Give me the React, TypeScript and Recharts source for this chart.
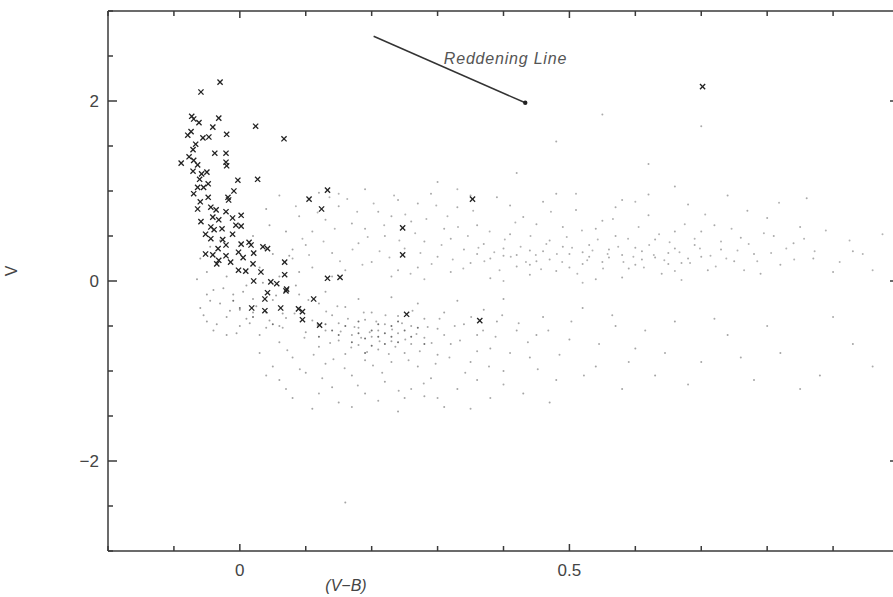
import React from "react"
import {
  ScatterChart,
  Scatter,
  XAxis,
  YAxis,
  ReferenceLine,
  ReferenceDot,
} from "recharts"

type Pt = [number, number]

// tick positions
const xTicks = [-0.2, -0.1, 0, 0.1, 0.2, 0.3, 0.4, 0.5, 0.6, 0.7, 0.8, 0.9, 1.0]
const yTicks = [-3, -2.5, -2, -1.5, -1, -0.5, 0, 0.5, 1, 1.5, 2, 2.5, 3]
const xLabels: { [k: string]: string } = { "0": "0", "0.5": "0.5" }
const yLabels: { [k: string]: string } = { "-2": "\u22122", "0": "0", "2": "2" }

// reddening vector (start, end)
const reddening: Pt[] = [
  [0.203, 2.72],
  [0.433, 1.98],
]

// blue supergiant candidates (crosses)
const crosses: Pt[] = [
  [-0.03, 2.21], [-0.059, 2.1], [-0.073, 1.83], [-0.07, 1.8], [-0.062, 1.76],
  [-0.032, 1.81], [-0.041, 1.71], [-0.02, 1.63], [0.024, 1.72], [0.067, 1.58],
  [-0.074, 1.66], [-0.079, 1.62], [-0.056, 1.59], [-0.047, 1.6], [-0.067, 1.52],
  [-0.071, 1.46], [-0.038, 1.42], [-0.021, 1.42], [-0.077, 1.38], [-0.089, 1.31],
  [-0.021, 1.32], [-0.02, 1.28], [-0.07, 1.34], [-0.064, 1.29], [-0.071, 1.22],
  [-0.058, 1.19], [-0.05, 1.21], [-0.003, 1.12], [0.027, 1.13], [-0.061, 1.13],
  [-0.055, 1.04], [-0.064, 1.04], [-0.07, 0.97], [-0.048, 0.93], [-0.018, 0.93],
  [0.105, 0.91], [-0.017, 0.9], [0.124, 0.8], [-0.064, 0.8], [-0.044, 0.82],
  [-0.036, 0.79], [-0.021, 0.77], [0.002, 0.73], [-0.011, 0.7], [-0.041, 0.71],
  [-0.059, 0.66], [-0.032, 0.68], [-0.006, 0.62], [0.002, 0.61], [-0.044, 0.6],
  [-0.039, 0.57], [-0.027, 0.58], [-0.011, 0.52], [-0.052, 0.52], [-0.044, 0.47],
  [-0.026, 0.46], [0.014, 0.43], [0.017, 0.4], [0.002, 0.41], [-0.021, 0.4],
  [0.035, 0.38], [0.042, 0.36], [-0.033, 0.36], [-0.002, 0.32], [0.021, 0.31],
  [-0.052, 0.3], [-0.041, 0.29], [-0.021, 0.28], [0.005, 0.26], [-0.032, 0.23],
  [-0.014, 0.21], [0.02, 0.19], [0.068, 0.21], [-0.035, 0.19], [-0.002, 0.12],
  [0.009, 0.11], [0.032, 0.1], [0.068, 0.07], [0.133, 0.03], [0.152, 0.04],
  [0.021, 0.0], [0.047, -0.01], [0.056, -0.03], [0.071, -0.09], [0.07, -0.11],
  [0.042, -0.13], [0.038, -0.2], [0.112, -0.2], [0.018, -0.3], [0.038, -0.33],
  [0.062, -0.3], [0.089, -0.31], [0.095, -0.34], [0.095, -0.43], [0.121, -0.49],
  [0.253, -0.37], [0.364, -0.44], [0.702, 2.16], [0.353, 0.91], [0.247, 0.59],
  [0.247, 0.29], [0.133, 1.01], [-0.009, 1.0], [-0.048, 1.08], [-0.06, 0.88],
]

// faint field stars, upper (blue-loop / supergiant) band
const upperBand: Pt[] = [
  [0.06, 0.95], [0.09, 0.72], [0.11, 0.55], [0.12, 0.98], [0.14, 0.31], [0.15, 0.83],
  [0.16, 0.12], [0.17, 0.64], [0.18, 0.42], [0.19, 1.02], [0.2, 0.21], [0.21, 0.77],
  [0.22, 0.5], [0.23, 0.05], [0.24, 0.9], [0.25, 0.36], [0.26, 0.66], [0.27, 0.15],
  [0.28, 0.44], [0.29, 0.97], [0.3, 0.27], [0.31, 0.58], [0.32, 0.1], [0.33, 0.82],
  [0.34, 0.35], [0.35, 0.2], [0.36, 0.62], [0.37, 0.41], [0.38, 0.03], [0.39, 0.93],
  [0.4, 0.28], [0.41, 0.52], [0.42, 0.16], [0.43, 0.71], [0.44, 0.34], [0.45, 0.22],
  [0.46, 0.88], [0.47, 0.45], [0.48, 0.11], [0.49, 0.6], [0.5, 0.3], [0.51, 0.79],
  [0.52, 0.19], [0.53, 0.4], [0.54, 0.02], [0.55, 0.67], [0.56, 0.26], [0.57, 0.5],
  [0.58, 0.9], [0.59, 0.14], [0.6, 0.37], [0.61, 0.24], [0.62, 0.73], [0.63, 0.46],
  [0.64, 0.08], [0.65, 0.31], [0.66, 0.55], [0.67, 0.2], [0.68, 0.85], [0.69, 0.4],
  [0.7, 0.27], [0.71, 0.12], [0.72, 0.62], [0.73, 0.35], [0.74, 0.95], [0.75, 0.22],
  [0.76, 0.48], [0.78, 0.3], [0.8, 0.7], [0.82, 0.18], [0.84, 0.42], [0.87, 0.25],
  [0.9, 0.1], [0.36, 0.3], [0.38, 0.25], [0.4, 0.36], [0.42, 0.29], [0.44, 0.18],
  [0.46, 0.33], [0.47, 0.24], [0.49, 0.38], [0.5, 0.15], [0.52, 0.32], [0.53, 0.27],
  [0.55, 0.21], [0.56, 0.35], [0.58, 0.29], [0.6, 0.18], [0.61, 0.33], [0.63, 0.26],
  [0.65, 0.19], [0.66, 0.36], [0.68, 0.25], [0.1, 0.4], [0.13, 0.68], [0.08, 0.25],
  [0.11, 0.15], [0.19, 0.58], [0.23, 0.72], [0.27, 0.86], [0.32, 0.47], [0.35, 0.95],
  [0.41, 0.84], [0.45, 0.63], [0.48, 0.97], [0.54, 0.58], [0.57, 0.82], [0.62, 0.96],
  [0.7, 0.55], [0.77, 0.78], [0.81, 0.5], [0.85, 0.6], [0.79, 0.08], [0.93, 0.33],
  [0.48, 1.55], [0.62, 1.3], [0.55, 1.85], [0.7, 1.72], [0.42, 1.2], [0.3, 1.1],
  [0.66, 1.05], [0.86, 0.92], [0.24, 0.12], [0.14, 0.05], [0.44, 0.07], [0.58, 0.04],
]

const upperBandExtra: Pt[] = [
  [0.085, 0.83], [0.095, 0.47], [0.105, 0.29], [0.118, 0.76], [0.127, 0.44], [0.136, 0.93],
  [0.144, 0.58], [0.152, 0.22], [0.163, 0.91], [0.171, 0.35], [0.178, 0.77], [0.186, 0.18],
  [0.194, 0.49], [0.203, 0.86], [0.212, 0.33], [0.219, 0.62], [0.227, 0.26], [0.234, 0.95],
  [0.242, 0.45], [0.251, 0.74], [0.259, 0.08], [0.266, 0.53], [0.274, 0.31], [0.283, 0.69],
  [0.291, 0.19], [0.298, 0.84], [0.306, 0.4], [0.315, 0.72], [0.323, 0.24], [0.331, 0.6],
  [0.339, 0.14], [0.346, 0.5], [0.354, 0.78], [0.362, 0.37], [0.371, 0.22], [0.379, 0.55],
  [0.386, 0.32], [0.394, 0.12], [0.402, 0.46], [0.411, 0.27], [0.418, 0.65], [0.426, 0.38],
  [0.434, 0.21], [0.441, 0.5], [0.449, 0.29], [0.457, 0.13], [0.465, 0.41], [0.472, 0.77],
  [0.481, 0.3], [0.489, 0.21], [0.496, 0.49], [0.504, 0.37], [0.512, 0.08], [0.519, 0.56],
  [0.527, 0.23], [0.535, 0.34], [0.543, 0.46], [0.551, 0.14], [0.558, 0.3], [0.566, 0.69],
  [0.574, 0.38], [0.582, 0.21], [0.589, 0.47], [0.597, 0.27], [0.605, 0.6], [0.613, 0.15],
  [0.621, 0.4], [0.628, 0.29], [0.636, 0.52], [0.644, 0.23], [0.652, 0.43], [0.66, 0.11],
  [0.667, 0.32], [0.675, 0.63], [0.683, 0.2], [0.69, 0.47], [0.698, 0.36], [0.706, 0.74],
  [0.714, 0.28], [0.722, 0.16], [0.73, 0.44], [0.738, 0.25], [0.746, 0.58], [0.755, 0.34],
  [0.765, 0.12], [0.772, 0.41], [0.785, 0.22], [0.795, 0.53], [0.806, 0.31], [0.818, 0.87],
  [0.829, 0.36], [0.841, 0.24], [0.856, 0.47], [0.872, 0.33], [0.889, 0.56], [0.91, 0.21],
  [0.925, 0.45], [0.945, 0.3], [0.96, 0.12], [0.975, 0.52], [0.15, 0.97], [0.33, 1.02],
  [0.51, 0.97], [0.6, 0.88], [0.28, 0.02], [0.4, 0.0], [0.52, -0.02], [0.67, 0.01],
]

// faint field stars, red clump / lower group
const lowerClump: Pt[] = [
  [0.02, -0.35], [0.04, -0.52], [0.05, -0.21], [0.06, -0.68], [0.07, -0.41], [0.08, -0.85],
  [0.09, -0.3], [0.1, -0.57], [0.1, -1.02], [0.11, -0.44], [0.12, -0.73], [0.12, -0.25],
  [0.13, -0.92], [0.13, -0.55], [0.14, -0.38], [0.14, -1.18], [0.15, -0.66], [0.15, -0.47],
  [0.16, -0.81], [0.16, -0.29], [0.17, -0.6], [0.17, -1.05], [0.18, -0.52], [0.18, -0.71],
  [0.19, -0.43], [0.19, -0.88], [0.2, -0.62], [0.2, -0.35], [0.21, -0.76], [0.21, -0.55],
  [0.22, -1.12], [0.22, -0.48], [0.23, -0.67], [0.23, -0.9], [0.24, -0.58], [0.24, -0.39],
  [0.25, -0.8], [0.25, -1.3], [0.26, -0.5], [0.26, -0.7], [0.27, -0.95], [0.28, -0.42],
  [0.28, -0.63], [0.29, -1.08], [0.3, -0.53], [0.3, -0.82], [0.31, -0.35], [0.32, -0.7],
  [0.33, -1.2], [0.34, -0.48], [0.35, -0.9], [0.36, -0.6], [0.38, -0.75], [0.4, -1.0],
  [0.42, -0.55], [0.44, -0.85], [0.46, -0.4], [0.48, -1.1], [0.5, -0.65], [0.52, -0.3],
  [0.54, -0.95], [0.57, -0.5], [0.6, -0.75], [0.63, -1.05], [0.66, -0.45], [0.7, -0.9],
  [0.74, -0.6], [0.78, -1.1], [0.82, -0.8], [0.88, -1.05], [0.93, -0.7], [0.06, -1.1],
  [0.08, -1.3], [0.11, -1.42], [0.15, -1.35], [0.19, -1.25], [0.24, -1.45], [0.28, -1.28],
  [0.31, -1.4], [0.09, -0.15], [0.13, -0.12], [0.18, -0.2], [0.23, -0.18], [0.27, -0.25],
  [0.33, -0.22], [0.37, -0.32], [0.4, -0.2], [0.45, -0.6], [0.39, -0.45], [0.43, -1.25],
  [0.03, -0.8], [0.05, -0.95], [0.36, -1.1], [0.16, -2.46], [0.47, -1.35], [0.58, -1.2],
]

const lowerClumpExtra: Pt[] = [
  [0.065, -0.52], [0.072, -0.77], [0.083, -0.36], [0.091, -0.98], [0.098, -0.63], [0.104, -0.21],
  [0.112, -0.82], [0.118, -0.49], [0.125, -1.08], [0.131, -0.34], [0.137, -0.69], [0.142, -0.87],
  [0.148, -0.28], [0.153, -0.56], [0.159, -0.97], [0.164, -0.42], [0.169, -0.74], [0.174, -0.51],
  [0.179, -1.16], [0.184, -0.63], [0.188, -0.35], [0.193, -0.79], [0.197, -0.57], [0.202, -0.94],
  [0.207, -0.45], [0.212, -0.67], [0.216, -1.02], [0.221, -0.38], [0.226, -0.81], [0.231, -0.54],
  [0.236, -0.73], [0.241, -1.22], [0.246, -0.47], [0.251, -0.65], [0.256, -0.88], [0.262, -0.33],
  [0.268, -0.59], [0.273, -0.78], [0.279, -1.14], [0.285, -0.51], [0.291, -0.69], [0.297, -0.92],
  [0.303, -0.42], [0.31, -0.6], [0.318, -0.85], [0.326, -0.5], [0.334, -0.66], [0.342, -1.02],
  [0.351, -0.4], [0.36, -0.78], [0.369, -0.55], [0.378, -0.95], [0.388, -0.62], [0.398, -0.38],
  [0.41, -0.8], [0.423, -0.47], [0.437, -0.68], [0.452, -0.98], [0.468, -0.55], [0.485, -0.82],
  [0.503, -0.45], [0.522, -1.05], [0.545, -0.7], [0.565, -0.38], [0.59, -0.9], [0.615, -0.55],
  [0.645, -0.8], [0.68, -1.15], [0.72, -0.42], [0.76, -0.85], [0.8, -0.5], [0.85, -1.2],
  [0.9, -0.4], [0.96, -0.95], [0.12, -1.25], [0.17, -1.4], [0.21, -1.33], [0.26, -1.2],
  [0.3, -1.3], [0.35, -1.42], [0.4, -1.15], [0.07, -1.2], [0.04, -1.05], [0.38, -1.3],
]

const leftStrip: Pt[] = [
  [-0.06, -0.3], [-0.05, -0.45], [-0.04, -0.1], [-0.04, -0.55], [-0.03, -0.25], [-0.02, -0.4],
  [-0.02, 0.05], [-0.01, -0.15], [0.0, -0.5], [0.0, -0.32], [0.01, -0.05], [0.01, -0.42],
  [0.02, -0.2], [0.03, -0.6], [0.03, 0.15], [0.04, -0.35], [0.05, 0.3], [0.06, 0.05],
  [-0.05, 0.1], [-0.06, 0.25], [-0.03, 0.45], [0.07, 0.55], [0.08, 0.35], [0.09, 0.1],
  [-0.01, 0.7], [0.04, 0.8], [-0.02, -0.6], [-0.05, -0.15], [0.06, -0.5], [0.02, 0.5],
  [-0.055, -0.38], [-0.045, -0.22], [-0.035, -0.48], [-0.025, -0.08], [-0.015, -0.33], [-0.005, -0.58],
  [0.005, -0.12], [0.015, -0.47], [0.025, -0.28], [0.035, -0.02], [0.045, -0.44], [0.055, -0.16],
  [0.065, -0.36], [0.075, 0.28], [0.085, -0.05], [-0.065, 0.02], [-0.045, 0.38], [0.045, 0.62],
]

// darker core of the red clump
const coreClump: Pt[] = [
  [0.14, -0.55], [0.15, -0.6], [0.16, -0.5], [0.17, -0.68], [0.18, -0.58], [0.18, -0.45],
  [0.19, -0.64], [0.2, -0.55], [0.2, -0.72], [0.21, -0.48], [0.21, -0.62], [0.22, -0.58],
  [0.22, -0.7], [0.23, -0.5], [0.23, -0.62], [0.24, -0.68], [0.25, -0.55], [0.26, -0.62],
  [0.27, -0.52], [0.12, -0.62], [0.13, -0.48], [0.19, -0.8], [0.24, -0.45], [0.28, -0.7],
  [0.0, -0.3], [0.02, -0.4], [-0.01, -0.22], [0.05, -0.48],
]

const toXY = (pts: Pt[]) => pts.map(([x, y]) => ({ x, y }))

const INK = "#3a3a3a"
const FONT = "'Liberation Sans', Arial, sans-serif"

const Cross = (props: any) => {
  const { cx, cy } = props
  if (cx == null || cy == null) return null
  const s = 2.6
  return (
    <g stroke="#222" strokeWidth={1.3}>
      <line x1={cx - s} y1={cy - s} x2={cx + s} y2={cy + s} />
      <line x1={cx - s} y1={cy + s} x2={cx + s} y2={cy - s} />
    </g>
  )
}

const makeDot = (fill: string, r: number) => (props: any) => {
  const { cx, cy } = props
  if (cx == null || cy == null) return null
  return <circle cx={cx} cy={cy} r={r} fill={fill} />
}

const isMajorX = (v: number) => Math.abs(v * 2 - Math.round(v * 2)) < 1e-6

const BottomTick = (props: any) => {
  const { x, y, payload } = props
  const key = String(payload.value)
  const len = isMajorX(payload.value) ? 7 : 5
  return (
    <g>
      <line x1={x} y1={y} x2={x} y2={y - len} stroke={INK} strokeWidth={1.5} />
      {xLabels[key] && (
        <text x={x} y={y + 25} textAnchor="middle" fontSize={17} fill="#444" fontFamily={FONT}>
          {xLabels[key]}
        </text>
      )}
    </g>
  )
}

const TopTick = (props: any) => {
  const { x, y, payload } = props
  const len = isMajorX(payload.value) ? 7 : 5
  return <line x1={x} y1={y} x2={x} y2={y + len} stroke={INK} strokeWidth={1.5} />
}

const LeftTick = (props: any) => {
  const { x, y, payload } = props
  const key = String(payload.value)
  const len = yLabels[key] ? 9 : 5
  return (
    <g>
      <line x1={x} y1={y} x2={x + len} y2={y} stroke={INK} strokeWidth={1.5} />
      {yLabels[key] && (
        <text x={x - 9} y={y + 6} textAnchor="end" fontSize={17} fill="#444" fontFamily={FONT}>
          {yLabels[key]}
        </text>
      )}
    </g>
  )
}

const RightTick = (props: any) => {
  const { x, y, payload } = props
  const len = yLabels[String(payload.value)] ? 9 : 5
  return <line x1={x} y1={y} x2={x - len} y2={y} stroke={INK} strokeWidth={1.5} />
}

const App = () => {
  return (
    <div style={{ width: 893, height: 597, overflow: "hidden", background: "#fff" }}>
      <style>{"body { margin: 0; }"}</style>
      <ScatterChart width={900} height={597} margin={{ top: 0, right: 0, bottom: 0, left: 0 }}>
        <XAxis
          xAxisId="b"
          type="number"
          dataKey="x"
          domain={[-0.2, 1.0]}
          ticks={xTicks}
          allowDataOverflow
          height={46}
          tickSize={0}
          tickMargin={0}
          tickLine={false}
          interval={0}
          stroke={INK}
          strokeWidth={1.5}
          tick={<BottomTick />}
          label={{
            content: () => (
              <text x={346} y={591} textAnchor="middle" fontSize={16} fontStyle="italic" fill="#444" fontFamily={FONT}>
                (V{"\u2212"}B)
              </text>
            ),
          }}
        />
        <XAxis
          xAxisId="t"
          orientation="top"
          type="number"
          dataKey="x"
          domain={[-0.2, 1.0]}
          ticks={xTicks}
          allowDataOverflow
          height={11}
          tickSize={0}
          tickMargin={0}
          tickLine={false}
          interval={0}
          stroke={INK}
          strokeWidth={1.5}
          tick={<TopTick />}
        />
        <YAxis
          yAxisId="l"
          type="number"
          dataKey="y"
          domain={[-3, 3]}
          ticks={yTicks}
          allowDataOverflow
          width={108}
          tickSize={0}
          tickMargin={0}
          tickLine={false}
          interval={0}
          stroke={INK}
          strokeWidth={1.5}
          tick={<LeftTick />}
          label={{
            content: () => (
              <text x={17} y={271} textAnchor="middle" fontSize={16} fill="#444" fontFamily={FONT} transform="rotate(-90 17 271)">
                V
              </text>
            ),
          }}
        />
        <YAxis
          yAxisId="r"
          orientation="right"
          type="number"
          dataKey="y"
          domain={[-3, 3]}
          ticks={yTicks}
          allowDataOverflow
          width={1}
          tickSize={0}
          tickMargin={0}
          tickLine={false}
          interval={0}
          stroke={INK}
          strokeWidth={1.5}
          tick={<RightTick />}
        />
        <Scatter xAxisId="b" yAxisId="l" data={toXY(upperBand)} shape={makeDot("#aaa", 1)} isAnimationActive={false} />
        <Scatter xAxisId="b" yAxisId="l" data={toXY(upperBandExtra)} shape={makeDot("#b4b4b4", 1)} isAnimationActive={false} />
        <Scatter xAxisId="b" yAxisId="l" data={toXY(lowerClump)} shape={makeDot("#a4a4a4", 1)} isAnimationActive={false} />
        <Scatter xAxisId="b" yAxisId="l" data={toXY(lowerClumpExtra)} shape={makeDot("#aaa", 1)} isAnimationActive={false} />
        <Scatter xAxisId="b" yAxisId="l" data={toXY(leftStrip)} shape={makeDot("#a0a0a0", 1)} isAnimationActive={false} />
        <Scatter xAxisId="b" yAxisId="l" data={toXY(coreClump)} shape={makeDot("#707070", 1)} isAnimationActive={false} />
        <Scatter xAxisId="b" yAxisId="l" data={toXY(crosses)} shape={<Cross />} isAnimationActive={false} />
        <ReferenceLine
          xAxisId="b"
          yAxisId="l"
          segment={[
            { x: reddening[0][0], y: reddening[0][1] },
            { x: reddening[1][0], y: reddening[1][1] },
          ]}
          stroke="#333"
          strokeWidth={1.5}
        />
        <ReferenceDot xAxisId="b" yAxisId="l" x={reddening[1][0]} y={reddening[1][1]} r={2.2} fill="#222" stroke="none" />
        <ReferenceDot
          xAxisId="b"
          yAxisId="l"
          x={0.403}
          y={2.47}
          r={0}
          stroke="none"
          label={{
            content: (p: any) => (
              <text
                x={p.viewBox?.x ?? 0}
                y={(p.viewBox?.y ?? 0) + 5}
                textAnchor="middle"
                fontSize={16}
                fontStyle="italic"
                letterSpacing={0.8}
                fill="#555"
                fontFamily={FONT}
              >
                Reddening Line
              </text>
            ),
          }}
        />
      </ScatterChart>
    </div>
  )
}

export default App
